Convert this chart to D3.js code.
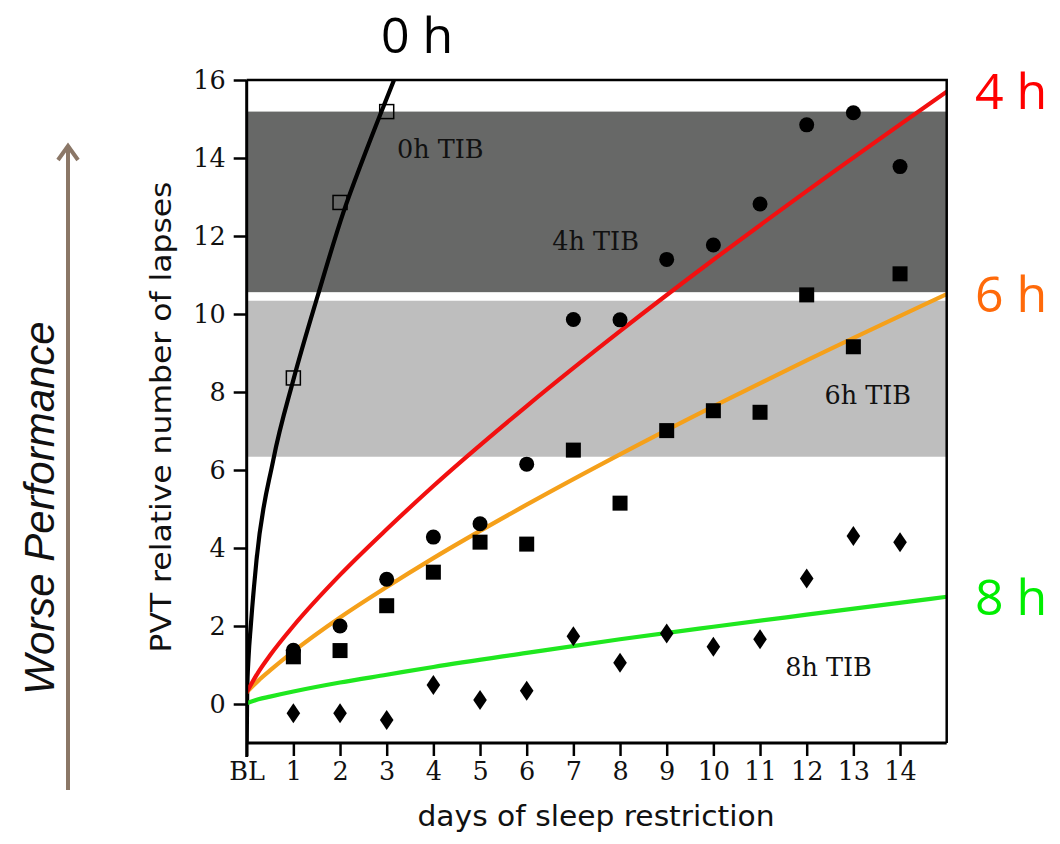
<!DOCTYPE html>
<html>
<head>
<meta charset="utf-8">
<script src="https://cdn.jsdelivr.net/npm/d3@7"></script>
<style>
  html, body { margin: 0; padding: 0; background: #fff; }
  svg { display: block; }
</style>
</head>
<body>
<svg id="chart" width="1060" height="844"></svg>
<script>
// ---------- data ----------
const xTickValues = [0, 1, 2, 3, 4, 5, 6, 7, 8, 9, 10, 11, 12, 13, 14];
const xTickLabels = ["BL", "1", "2", "3", "4", "5", "6", "7", "8", "9", "10", "11", "12", "13", "14"];
const yTickValues = [0, 2, 4, 6, 8, 10, 12, 14, 16];

const days = [1, 2, 3, 4, 5, 6, 7, 8, 9, 10, 11, 12, 13, 14];
const lapses4h = [1.38, 2.0, 3.2, 4.28, 4.62, 6.15, 9.86, 9.85, 11.4, 11.77, 12.82, 14.85, 15.16, 13.78];
const lapses6h = [1.21, 1.37, 2.52, 3.38, 4.15, 4.1, 6.51, 5.15, 7.01, 7.52, 7.48, 10.49, 9.16, 11.03];
const lapses8h = [-0.24, -0.24, -0.41, 0.49, 0.1, 0.34, 1.74, 1.06, 1.81, 1.47, 1.66, 3.22, 4.31, 4.15];
const days0h = [1, 2, 3];
const lapses0h = [8.36, 12.86, 15.19];

// fitted curves
const fit0hX = [0, 0.01, 0.04, 0.086, 0.21, 0.57, 1.0, 1.53, 2.07, 2.5, 2.89, 3.14, 3.3];
const fit0hY = [-1, 0.3, 1.2, 1.98, 3.69, 6.26, 8.31, 10.5, 12.6, 14.0, 15.2, 15.95, 16.45];
const fitX = [0, 0.25, 0.5, 1, 2, 3, 4, 6, 8, 10, 12, 15];
const fit4h = [0.3, 0.82, 1.25, 2.0, 3.31, 4.48, 5.59, 7.64, 9.56, 11.39, 13.15, 15.7];
const fit6h = [0.3, 0.6, 0.86, 1.35, 2.22, 3.0, 3.74, 5.11, 6.40, 7.63, 8.81, 10.51];
const fit8h = [0.02, 0.12, 0.19, 0.32, 0.55, 0.75, 0.95, 1.31, 1.66, 1.98, 2.29, 2.75];

// shaded bands [low, high]
const band4h = [10.56, 15.19];
const band6h = [6.34, 10.34];

// ---------- drawing ----------
const svg = d3.select("#chart");
const x = d3.scaleLinear().domain([0, 15]).range([246.7, 946.7]);
const y = d3.scaleLinear().domain([-1, 16]).range([743, 80]);

const serif = "'DejaVu Serif', serif";
const sans = "'DejaVu Sans', sans-serif";

svg.append("defs").append("clipPath").attr("id", "plotclip")
  .append("rect")
  .attr("x", x(0)).attr("y", y(16))
  .attr("width", x(15) - x(0)).attr("height", y(-1) - y(16));

// bands
svg.append("rect")
  .attr("x", x(0)).attr("width", x(15) - x(0))
  .attr("y", y(band4h[1])).attr("height", y(band4h[0]) - y(band4h[1]))
  .attr("fill", "#676867");
svg.append("rect")
  .attr("x", x(0)).attr("width", x(15) - x(0))
  .attr("y", y(band6h[1])).attr("height", y(band6h[0]) - y(band6h[1]))
  .attr("fill", "#bebebe");

// band labels
const tib = [
  {t: "0h TIB", xv: 3.22, yv: 14.0},
  {t: "4h TIB", xv: 6.55, yv: 11.65},
  {t: "6h TIB", xv: 12.38, yv: 7.69},
  {t: "8h TIB", xv: 11.54, yv: 0.72}
];
svg.selectAll("text.tib").data(tib).enter().append("text")
  .attr("class", "tib")
  .attr("x", d => x(d.xv)).attr("y", d => y(d.yv))
  .attr("font-family", serif).attr("font-size", 25.5)
  .attr("fill", "#111")
  .text(d => d.t);

// curves
const plot = svg.append("g").attr("clip-path", "url(#plotclip)");
const line = d3.line().x(d => x(d[0])).y(d => y(d[1])).curve(d3.curveMonotoneX);
const curves = [
  {xs: fit0hX, ys: fit0hY, c: "#000000"},
  {xs: fitX, ys: fit8h, c: "#1fe81f"},
  {xs: fitX, ys: fit6h, c: "#f5a01a"},
  {xs: fitX, ys: fit4h, c: "#f21010"}
];
curves.forEach(cv => {
  plot.append("path")
    .datum(cv.xs.map((v, i) => [v, cv.ys[i]]))
    .attr("d", line)
    .attr("fill", "none")
    .attr("stroke", cv.c)
    .attr("stroke-width", 4.2)
    .attr("stroke-linecap", "round");
});

// markers
const mk = svg.append("g");
mk.selectAll("circle.m4").data(days).enter().append("circle")
  .attr("cx", d => x(d)).attr("cy", (d, i) => y(lapses4h[i]))
  .attr("r", 7.5).attr("fill", "#000");
mk.selectAll("rect.m6").data(days).enter().append("rect")
  .attr("x", d => x(d) - 7.5).attr("y", (d, i) => y(lapses6h[i]) - 7.5)
  .attr("width", 15).attr("height", 15).attr("fill", "#000");
mk.selectAll("path.m8").data(days).enter().append("path")
  .attr("transform", (d, i) => `translate(${x(d)},${y(lapses8h[i])})`)
  .attr("d", "M0,-10L6.8,0L0,10L-6.8,0Z").attr("fill", "#000");
mk.selectAll("rect.m0").data(days0h).enter().append("rect")
  .attr("x", d => x(d) - 7).attr("y", (d, i) => y(lapses0h[i]) - 7)
  .attr("width", 14).attr("height", 14)
  .attr("fill", "none").attr("stroke", "#000").attr("stroke-width", 1.5);

// frame (top, right)
svg.append("path")
  .attr("d", `M${x(0)},${y(16)}H${x(15)}V${y(-1)}`)
  .attr("fill", "none").attr("stroke", "#000").attr("stroke-width", 2.5);

// axes
const xAxis = d3.axisBottom(x).tickValues(xTickValues)
  .tickFormat((d, i) => xTickLabels[i]).tickSizeInner(13).tickSizeOuter(0).tickPadding(6);
const gx = svg.append("g").attr("transform", `translate(0,${y(-1)})`).call(xAxis);
gx.select(".domain").attr("stroke-width", 3).attr("d", `M${x(0)},0H${x(15)}`);
gx.selectAll(".tick line").attr("stroke-width", 2.5);
gx.selectAll(".tick text").attr("font-family", serif).attr("font-size", 25.5).attr("fill", "#111");

const yAxis = d3.axisLeft(y).tickValues(yTickValues)
  .tickSizeInner(13).tickSizeOuter(0).tickPadding(8);
const gy = svg.append("g").attr("transform", `translate(${x(0)},0)`).call(yAxis);
gy.select(".domain").attr("stroke-width", 3).attr("d", `M0,${y(-1) + 14}V${y(16)}`);
gy.selectAll(".tick line").attr("stroke-width", 2.5);
gy.selectAll(".tick text").attr("font-family", serif).attr("font-size", 25.5).attr("fill", "#111");

// axis titles
svg.append("text")
  .attr("x", 596).attr("y", 826)
  .attr("text-anchor", "middle")
  .attr("font-family", sans).attr("font-size", 28)
  .attr("textLength", 357).attr("lengthAdjust", "spacingAndGlyphs")
  .attr("fill", "#111")
  .text("days of sleep restriction");
svg.append("text")
  .attr("transform", "translate(171,417) rotate(-90)")
  .attr("text-anchor", "middle")
  .attr("font-family", sans).attr("font-size", 28)
  .attr("textLength", 471).attr("lengthAdjust", "spacingAndGlyphs")
  .attr("fill", "#111")
  .text("PVT relative number of lapses");

// big condition labels
const bigFont = "'Open Sans', 'Noto Sans', sans-serif";
const big = [
  {t: "0 h", px: 381, py: 53, c: "#000000"},
  {t: "4 h", px: 975, py: 109, c: "#ff0000"},
  {t: "6 h", px: 975, py: 312, c: "#ff6a0a"},
  {t: "8 h", px: 975, py: 615, c: "#00ee00"}
];
svg.selectAll("text.big").data(big).enter().append("text")
  .attr("class", "big")
  .attr("x", d => d.px).attr("y", d => d.py)
  .attr("font-family", bigFont).attr("font-size", 50)
  .attr("fill", d => d.c)
  .text(d => d.t);

// worse performance arrow
const arrowColor = "#8b7767";
svg.append("line")
  .attr("x1", 68).attr("y1", 790).attr("x2", 68).attr("y2", 147)
  .attr("stroke", arrowColor).attr("stroke-width", 4);
svg.append("path")
  .attr("d", "M58,160L68,146L78,160")
  .attr("fill", "none").attr("stroke", arrowColor).attr("stroke-width", 4)
  .attr("stroke-linejoin", "miter");
svg.append("text")
  .attr("transform", "translate(54,508) rotate(-90)")
  .attr("text-anchor", "middle")
  .attr("font-family", "'Liberation Sans', Arial, sans-serif")
  .attr("font-style", "italic")
  .attr("font-size", 42)
  .attr("fill", "#111")
  .text("Worse Performance");
</script>
</body>
</html>
